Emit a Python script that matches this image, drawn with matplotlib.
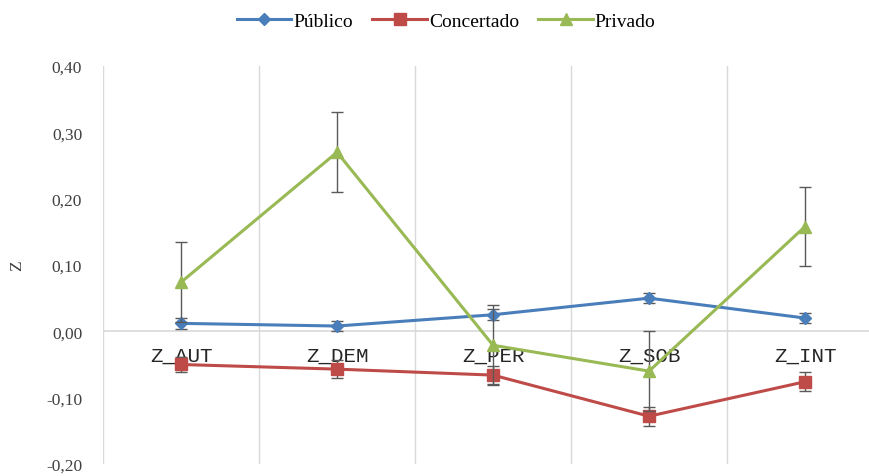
import numpy as np
import matplotlib.pyplot as plt
from matplotlib.ticker import FuncFormatter

plt.rcParams['font.family'] = ['Liberation Serif', 'DejaVu Serif']

categories = ["Z_AUT", "Z_DEM", "Z_PER", "Z_SOB", "Z_INT"]
publico = [0.012, 0.008, 0.025, 0.050, 0.020]
publico_err = [0.008, 0.008, 0.008, 0.008, 0.008]
concertado = [-0.050, -0.057, -0.066, -0.128, -0.076]
concertado_err = [0.012, 0.014, 0.013, 0.014, 0.014]
privado = [0.074, 0.270, -0.021, -0.060, 0.158]
privado_err = [0.060, 0.060, 0.060, 0.060, 0.060]

x = np.arange(len(categories))

fig = plt.figure(figsize=(8.7, 4.77), dpi=100)
ax = fig.add_axes([0.1184, 0.0252, 0.8966, 0.8343])

# vertical separators between categories
for b in np.arange(-0.5, len(categories) + 0.5, 1):
    ax.axvline(b, color='#d9d9d9', lw=1, zorder=0)
ax.axhline(0, color='#d9d9d9', lw=1.2, zorder=0)

series = [
    ("Público", publico, publico_err, '#4a7ebb', 'D', 6),
    ("Concertado", concertado, concertado_err, '#be4b48', 's', 8),
    ("Privado", privado, privado_err, '#98b954', '^', 9),
]
for i, (name, vals, err, col, mk, ms) in enumerate(series):
    ax.errorbar(x, vals, yerr=err, fmt='none', ecolor='#595959',
                elinewidth=1, capsize=4, capthick=1, zorder=2 + 2 * i)
    ax.plot(x, vals, color=col, lw=2.2, marker=mk, markersize=ms,
            label=name, zorder=3 + 2 * i)

# category names sit on the zero line
for xi, lab in zip(x, categories):
    ax.text(xi, -0.036, lab, ha='center', va='center',
            family='Liberation Mono', fontsize=15, color='#262626', zorder=1)

ax.set_xlim(-0.5, len(categories) - 0.5)
ax.set_ylim(-0.20, 0.40)
ax.set_yticks(np.arange(-0.20, 0.41, 0.10))
ax.yaxis.set_major_formatter(FuncFormatter(lambda v, p: f"{v:.2f}".replace('.', ',').replace('-0,00', '0,00')))
ax.tick_params(axis='y', length=0, labelsize=12.5, colors='#404040', pad=15)
ax.set_xticks([])
for s in ax.spines.values():
    s.set_visible(False)

ax.set_ylabel("Z", fontsize=12.5, color='#404040')
ax.yaxis.set_label_coords(-0.100, 0.5)

fig.legend(loc='center', bbox_to_anchor=(0.513, 0.954), ncol=3, frameon=False,
           fontsize=14, handlelength=2.8, handletextpad=0.1, columnspacing=1.0)

fig.savefig("out.png", dpi=100)
